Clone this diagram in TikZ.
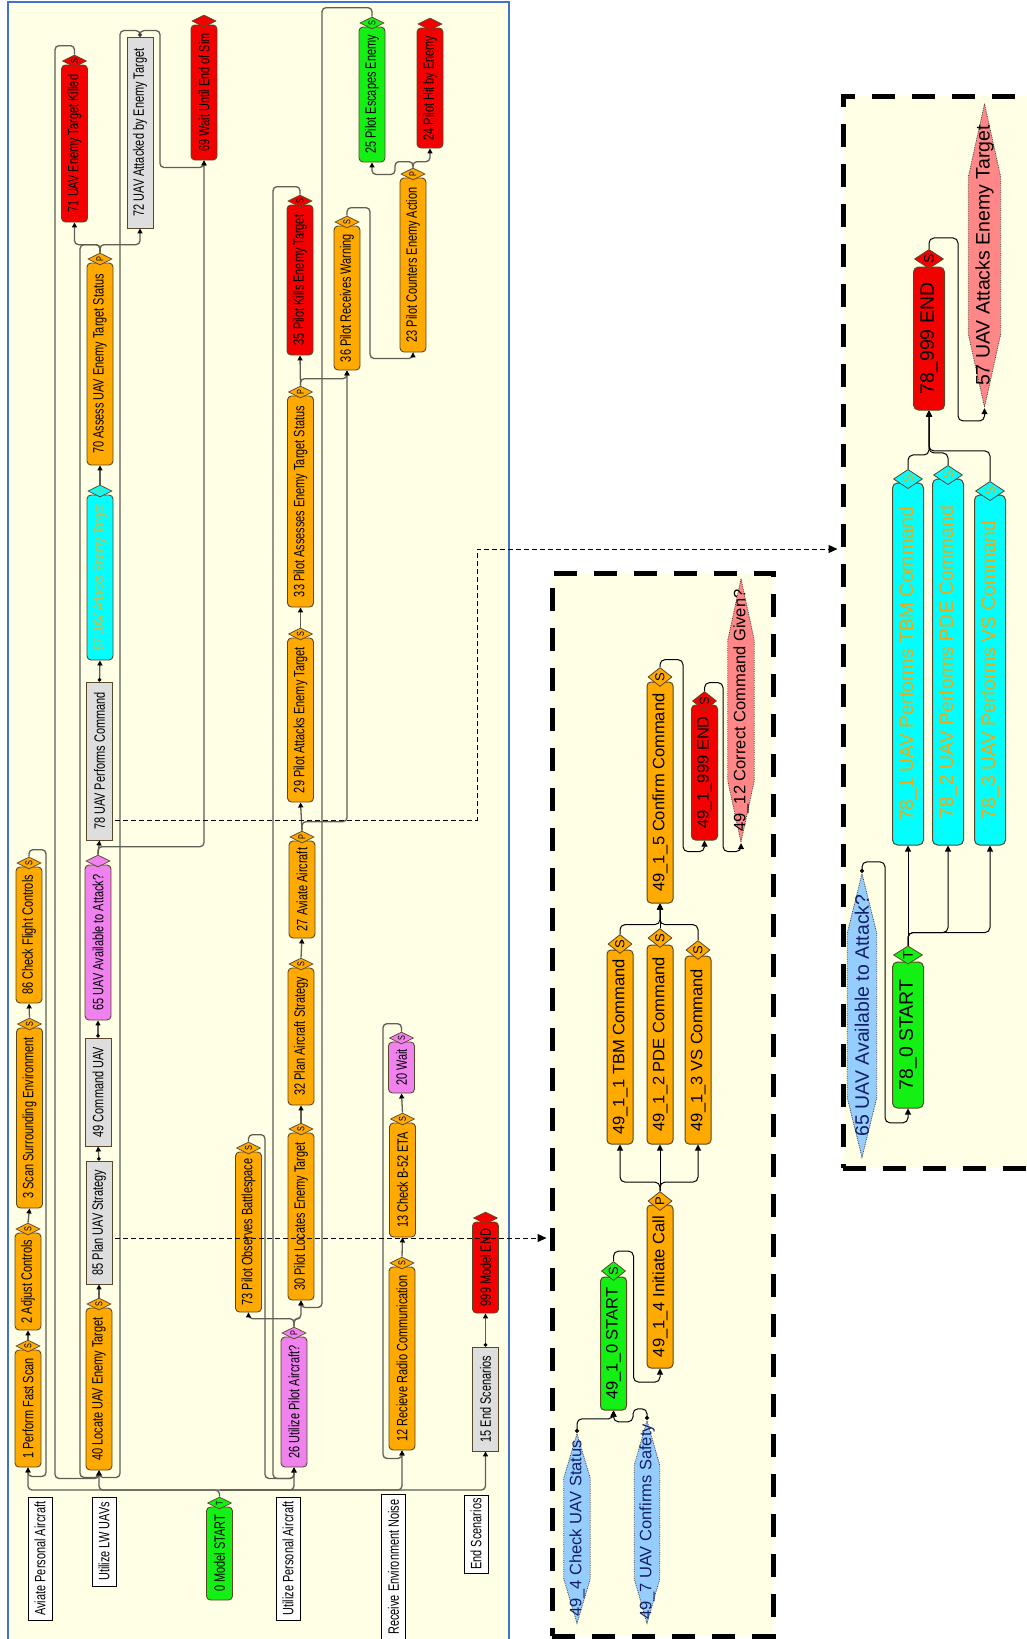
\documentclass[tikz,border=0pt]{standalone}
\usepackage{fontspec}
\setmainfont{Liberation Sans}
\newfontfamily\narrowsf[FakeStretch=0.73]{Liberation Sans}
\usetikzlibrary{shapes.geometric,arrows.meta,positioning,calc}
\definecolor{bgyellow}{RGB}{255,255,229}
\definecolor{frameblue}{RGB}{68,114,196}
\definecolor{taskorange}{RGB}{255,170,0}
\definecolor{taskred}{RGB}{245,0,0}
\definecolor{taskgreen}{RGB}{20,240,20}
\definecolor{taskcyan}{RGB}{0,255,255}
\definecolor{taskpink}{RGB}{240,130,240}
\definecolor{taskgrey}{RGB}{222,222,222}
\definecolor{boxline}{RGB}{90,70,40}
\definecolor{wireline}{RGB}{95,95,85}
\definecolor{condblue}{RGB}{150,205,255}
\definecolor{condsalmon}{RGB}{255,135,135}
\definecolor{textkhaki}{RGB}{200,190,70}
\definecolor{textamber}{RGB}{235,170,20}
\definecolor{textnavy}{RGB}{20,30,100}
\newcommand{\vt}[1]{\rotatebox{90}{#1}}

\begin{document}
\begin{tikzpicture}[x=1pt, y=-1pt,
    ltask/.style={draw=boxline, line width=0.9pt, rounded corners=4pt, inner sep=0pt,
        minimum width=26, font=\narrowsf\fontsize{15}{15}\selectfont},
    lcmd/.style={draw=boxline, line width=0.9pt, fill=taskgrey, inner sep=0pt,
        minimum width=26, font=\narrowsf\fontsize{15}{15}\selectfont},
    lgate/.style={diamond, draw=boxline, line width=0.7pt, inner sep=0pt,
        minimum width=24, minimum height=12, font=\narrowsf\fontsize{10}{10}\selectfont},
    swim/.style={draw=black, line width=0.9pt, fill=white, inner sep=0pt,
        minimum width=24, font=\narrowsf\fontsize{15}{15}\selectfont},
    wire/.style={wireline, line width=1.3pt, rounded corners=4pt,
        -{Triangle[length=5pt, width=5pt, color=black]}},
    cwire/.style={wire, {Circle[length=3.5pt, color=black]}-{Triangle[length=5pt, width=5pt, color=black]}},
    mtask/.style={draw=boxline, line width=1pt, rounded corners=4pt, inner sep=0pt,
        minimum width=26, font=\fontsize{16.5}{17}\selectfont},
    mgate/.style={diamond, draw=boxline, line width=0.8pt, inner sep=0pt,
        minimum width=24, minimum height=19, font=\fontsize{13}{13}\selectfont},
    rtask/.style={draw=boxline, line width=1pt, rounded corners=5pt, inner sep=0pt,
        minimum width=31, font=\fontsize{19.5}{20}\selectfont},
    rgate/.style={diamond, draw=boxline, line width=0.8pt, inner sep=0pt,
        minimum width=29, minimum height=18, font=\fontsize{14}{14}\selectfont},
    mwire/.style={black, line width=1pt, rounded corners=5pt, -{Triangle[length=6pt, width=6pt]}},
    mdwire/.style={mwire, {Circle[length=4pt]}-{Triangle[length=6pt, width=6pt]}},
    cond/.style 2 args={rectangle, inner sep=0pt, path picture={
        \path[fill=#1, draw=black!75, densely dotted, line width=0.8pt]
            ($(path picture bounding box.north)+(0,0.8)$)
            -- ($(path picture bounding box.north east)+(-0.8,#2)$)
            -- ($(path picture bounding box.south east)+(-0.8,-#2)$)
            -- ($(path picture bounding box.south)+(0,-0.8)$)
            -- ($(path picture bounding box.south west)+(0.8,-#2)$)
            -- ($(path picture bounding box.north west)+(0.8,#2)$) -- cycle;}},
    bigframe/.style={draw=black, line width=5pt, dash pattern=on 23pt off 17pt,
        fill=bgyellow, inner sep=0pt},
    dlink/.style={black, line width=1pt, dash pattern=on 5pt off 3pt,
        -{Triangle[length=9pt, width=8pt]}, shorten >=3pt}
]
\fill[white] (0,0) rectangle (1027,1639);
\useasboundingbox (0,0) rectangle (1027,1639);

% panels
\node[draw=frameblue, line width=1.5pt, fill=bgyellow, inner sep=0pt,
    minimum width=501, minimum height=1660] (lpanel) at (258.5,832) {};
\node[bigframe, minimum width=221, minimum height=1063] (midframe) at (662.5,1104.5) {};
\node[bigframe, minimum width=210, minimum height=1072] (rightframe) at (948,632) {};

% swimlane labels
\node[swim, minimum height=123] (lbA) at (40,1558.5) {\vt{Aviate Personal Aircraft}};
\node[swim, minimum height=89] (lbB) at (104,1541.5) {\vt{Utilize LW UAVs}};
\node[swim, minimum height=123] (lbC) at (288,1558.5) {\vt{Utilize Personal Aircraft}};
\node[swim, minimum height=146] (lbD) at (393.5,1567) {\vt{Receive Environment Noise}};
\node[swim, minimum height=78] (lbE) at (476,1534) {\vt{End Scenarios}};

% aviate column
\node[ltask, fill=taskgreen, minimum height=93] (n0) at (219.5,1553.5) {\vt{0 Model START}};
\node[lgate, fill=taskgreen] (n0g) at (219.5,1503) {\vt{T}};
\node[ltask, fill=taskorange, minimum height=117] (n1) at (28,1408.5) {\vt{1 Perform Fast Scan}};
\node[lgate, fill=taskorange] (n1g) at (28,1346) {\vt{S}};
\node[ltask, fill=taskorange, minimum height=97] (n2) at (28,1281.5) {\vt{2 Adjust Controls}};
\node[lgate, fill=taskorange] (n2g) at (28,1229) {\vt{S}};
\node[ltask, fill=taskorange, minimum height=180] (n3) at (29.5,1118) {\vt{3 Scan Surrounding Environment}};
\node[lgate, fill=taskorange] (n3g) at (29.5,1024) {\vt{S}};
\node[ltask, fill=taskorange, minimum height=136] (n86) at (29,935) {\vt{86 Check Flight Controls}};
\node[lgate, fill=taskorange] (n86g) at (29,863) {\vt{S}};

% UAV column
\node[ltask, fill=taskorange, minimum height=162] (n40) at (99,1389) {\vt{40 Locate UAV Enemy Target}};
\node[lgate, fill=taskorange] (n40g) at (99,1304) {\vt{S}};
\node[lcmd, minimum height=123] (n85) at (99,1222.5) {\vt{85 Plan UAV Strategy}};
\node[lcmd, minimum height=108] (n49) at (98,1092) {\vt{49 Command UAV}};
\node[ltask, fill=taskpink, minimum height=155] (n65) at (98,942.5) {\vt{65 UAV Available to Attack?}};
\node[lgate, fill=taskpink] (n65g) at (98,861) {};
\node[lcmd, minimum height=158] (n78) at (99.5,761) {\vt{78 UAV Performs Command}};
\node[ltask, fill=taskcyan, text=textkhaki, minimum height=165] (n57) at (100,577.5) {\vt{57 UAV Attacks Enemy Target}};
\node[lgate, fill=taskcyan, text=textkhaki] (n57g) at (100,491) {\vt{S}};
\node[ltask, fill=taskorange, minimum height=202] (n70) at (100,364) {\vt{70 Assess UAV Enemy Target Status}};
\node[lgate, fill=taskorange] (n70g) at (100,259) {\vt{P}};
\node[ltask, fill=taskred, minimum height=157] (n71) at (74.5,143.5) {\vt{71 UAV Enemy Target Killed}};
\node[lgate, fill=taskred] (n71g) at (74.5,61) {\vt{S}};
\node[lcmd, minimum height=191] (n72) at (140,132.5) {\vt{72 UAV Attacked by Enemy Target}};
\node[ltask, fill=taskred, minimum height=135] (n69) at (204,92.5) {\vt{69 Wait Until End of Sim}};
\node[lgate, fill=taskred] (n69g) at (204,21) {};

% pilot column
\node[ltask, fill=taskpink, minimum height=130] (n26) at (294,1402) {\vt{26 Utilize Pilot Aircraft?}};
\node[lgate, fill=taskpink] (n26g) at (294,1333) {\vt{P}};
\node[ltask, fill=taskorange, minimum height=160] (n73) at (248.5,1232) {\vt{73 Pilot Observes Battlespace}};
\node[lgate, fill=taskorange] (n73g) at (248.5,1148) {\vt{S}};
\node[ltask, fill=taskorange, minimum height=167] (n30) at (301,1216.5) {\vt{30 Pilot Locates Enemy Target}};
\node[lgate, fill=taskorange] (n30g) at (301,1129) {\vt{S}};
\node[ltask, fill=taskorange, minimum height=137] (n32) at (301,1036.5) {\vt{32 Plan Aircraft Strategy}};
\node[lgate, fill=taskorange] (n32g) at (301,964) {\vt{S}};
\node[ltask, fill=taskorange, minimum height=97] (n27) at (302,889.5) {\vt{27 Aviate Aircraft}};
\node[lgate, fill=taskorange] (n27g) at (302,837) {\vt{P}};
\node[ltask, fill=taskorange, minimum height=164] (n29) at (300.5,720) {\vt{29 Pilot Attacks Enemy Target}};
\node[lgate, fill=taskorange] (n29g) at (300.5,634) {\vt{S}};
\node[ltask, fill=taskorange, minimum height=211] (n33) at (300.5,501.5) {\vt{33 Pilot Assesses Enemy Target Status}};
\node[lgate, fill=taskorange] (n33g) at (300.5,392) {\vt{P}};
\node[ltask, fill=taskred, minimum height=150] (n35) at (300,280) {\vt{35 Pilot Kills Enemy Target}};
\node[lgate, fill=taskred] (n35g) at (300,201) {\vt{S}};
\node[ltask, fill=taskorange, minimum height=144] (n36) at (347,298) {\vt{36 Pilot Receives Warning}};
\node[lgate, fill=taskorange] (n36g) at (347,222) {\vt{S}};
\node[ltask, fill=taskorange, minimum height=174] (n23) at (413,265) {\vt{23 Pilot Counters Enemy Action}};
\node[lgate, fill=taskorange] (n23g) at (413,174) {\vt{P}};
\node[ltask, fill=taskgreen, minimum height=135] (n25) at (372,94.5) {\vt{25 Pilot Escapes Enemy}};
\node[lgate, fill=taskgreen] (n25g) at (372,23) {\vt{S}};
\node[ltask, fill=taskred, minimum height=120] (n24) at (430,88) {\vt{24 Pilot Hit by Enemy}};
\node[lgate, fill=taskred] (n24g) at (430,24) {};

% noise and end columns
\node[ltask, fill=taskorange, minimum height=183] (n12) at (402,1358.5) {\vt{12 Recieve Radio Communication}};
\node[lgate, fill=taskorange] (n12g) at (402,1263) {\vt{S}};
\node[ltask, fill=taskorange, minimum height=114] (n13) at (402.5,1180) {\vt{13 Check B-52 ETA}};
\node[lgate, fill=taskorange] (n13g) at (402.5,1119) {\vt{S}};
\node[ltask, fill=taskpink, minimum height=51] (n20) at (401.5,1067.5) {\vt{20 Wait}};
\node[lgate, fill=taskpink] (n20g) at (401.5,1038) {\vt{S}};
\node[lcmd, minimum height=104] (n15) at (485.5,1399) {\vt{15 End Scenarios}};
\node[ltask, fill=taskred, minimum height=91] (n999) at (485.5,1267.5) {\vt{999 Model END}};
\node[lgate, fill=taskred] (n999g) at (485.5,1218) {};

% left wires
\coordinate (bus) at (219.5,1490);
\draw[wire] (n0g.north) -- (bus) -| (n1.south);
\draw[wire] (bus) -| (n40.south);
\draw[wire] (bus) -| (n26.south);
\draw[wire] (bus) -| (n12.south);
\draw[wire] (bus) -| (n15.south);
\draw[wire] (n1g.north) -- (n2.south);
\draw[wire] (n2g.north) -- (n3.south);
\draw[wire] (n3g.north) -- (n86.south);
\draw[wire] (n86g.north) -- ++(0,-7) -| ($(n1.south)+(18,9)$) -| (n1.south);
\draw[wire] (n40g.north) -- (n85.south);
\draw[cwire] (n85.north) -- (n49.south);
\draw[cwire] (n49.north) -- (n65.south);
\draw[wire] (n65g.north) -- (n78.south);
\draw[wire] (n65g.north) -- ++(0,-8) -| (n69.south);
\draw[cwire] (n78.north) -- (n57.south);
\draw[wire] (n57g.north) -- (n70.south);
\draw[wire] (n70g.north) -- ++(0,-8) -| (n71.south);
\draw[wire] (n70g.north) -- ++(0,-8) -| (n72.south);
\draw[wire] (n70g.north) -- ++(0,-8) -| ($(n40.south)+(-19,7)$) -| (n40.south);
\draw[wire] (n71g.north) -- ++(0,-9) -| ($(n40.south)+(-44,8)$) -| (n40.south);
\draw[cwire] (n72.north) -- ++(0,-6) -| ($(n40.south)+(21,7)$) -| (n40.south);
\draw[wire] (n72.north) -- ++(0,-6) -| ($(n69.south)+(-44,7)$) -| (n69.south);
\draw[wire] (n26g.north) -- ++(0,-8) -| (n73.south);
\draw[wire] (n26g.north) -- ++(0,-8) -| (n30.south);
\draw[wire] (n73g.north) -- ++(0,-7) -| ($(n26.south)+(-29,11)$) -| (n26.south);
\draw[wire] (n35g.north) -- ++(0,-8) -| ($(n26.south)+(-21,11)$) -| (n26.south);
\draw[wire] (n30g.north) -- (n32.south);
\draw[wire] (n32g.north) -- (n27.south);
\draw[wire] (n27g.north) -- (n29.south);
\draw[wire] (n27g.north) -- ++(0,-9) -| (n36.south);
\draw[wire] (n29g.north) -- (n33.south);
\draw[wire] (n33g.north) -- (n35.south);
\draw[wire] (n33g.north) -- ++(0,-7) -| (n36.south);
\draw[wire] (n36g.north) -- ++(0,-8) -| ($(n23.south)+(-43,6)$) -| (n23.south);
\draw[wire] (n23g.north) -- ++(0,-6) -| ($(n25.south)+(23,12)$) -| (n25.south);
\draw[wire] (n23g.north) -- ++(0,-6) -| (n24.south);
\draw[wire] (n25g.north) -- ++(0,-9) -| ($(n30.south)+(21,7)$) -| (n30.south);
\draw[wire] (n12g.north) -- (n13.south);
\draw[wire] (n13g.north) -- (n20.south);
\draw[wire] (n20g.north) -- ++(0,-8) -| ($(n12.south)+(-19,8)$) -| (n12.south);
\draw[cwire] (n15.north) -- (n999.south);

% 49 Command UAV sub-model
\node[mtask, fill=taskorange, minimum height=194] (m1) at (620,1047) {\vt{49\_1\_1 TBM Command}};
\node[mgate, fill=taskorange] (m1g) at (620,944) {\vt{S}};
\node[mtask, fill=taskorange, minimum height=199] (m2) at (660,1044.5) {\vt{49\_1\_2 PDE Command}};
\node[mgate, fill=taskorange] (m2g) at (660,938) {\vt{S}};
\node[mtask, fill=taskorange, minimum height=188] (m3) at (698,1050) {\vt{49\_1\_3 VS Command}};
\node[mgate, fill=taskorange] (m3g) at (698,950) {\vt{S}};
\node[mtask, fill=taskorange, minimum height=221] (m5) at (660,792.5) {\vt{49\_1\_5 Confirm Command}};
\node[mgate, fill=taskorange] (m5g) at (660,677) {\vt{S}};
\node[mtask, fill=taskred, minimum height=135] (mEnd) at (704.5,772.5) {\vt{49\_1\_999 END}};
\node[mgate, fill=taskred] (mEndg) at (704.5,701) {\vt{S}};
\node[cond={condsalmon}{62}, minimum width=28, minimum height=265,
    font=\fontsize{16.5}{17}\selectfont] (m12) at (741,710.5) {\vt{49\_12 Correct Command Given?}};
\node[mtask, fill=taskorange, minimum height=163] (m4) at (660,1286.5) {\vt{49\_1\_4 Initiate Call}};
\node[mgate, fill=taskorange] (m4g) at (660,1201) {\vt{P}};
\node[mtask, fill=taskgreen, minimum height=133] (m0) at (613.5,1343.5) {\vt{49\_1\_0 START}};
\node[mgate, fill=taskgreen] (m0g) at (613.5,1271) {\vt{S}};
\node[cond={condblue}{45}, minimum width=28, minimum height=191, text=textnavy,
    font=\fontsize{16.5}{17}\selectfont] (mChk) at (577,1528.5) {\vt{49\_4 Check UAV Status}};
\node[cond={condblue}{45}, minimum width=27, minimum height=204, text=textnavy,
    font=\fontsize{16.5}{17}\selectfont] (mSafe) at (647,1522) {\vt{49\_7 UAV Confirms Safety}};

\draw[mdwire] (mChk.north) -- ++(0,-14) -| (m0.south);
\draw[mdwire] (mSafe.north) -- ++(0,-11) -| ++(-14,13) -| (m0.south);
\draw[mwire] (m0g.north) -- ++(0,-10) -| ++(20,131) -| (m4.south);
\draw[mwire] (m4g.north) -- ++(0,-9) -| (m1.south);
\draw[mwire] (m4g.north) -- (m2.south);
\draw[mwire] (m4g.north) -- ++(0,-9) -| (m3.south);
\draw[mwire] (m1g.north) -- ++(0,-9.5) -| (m5.south);
\draw[mwire] (m2g.north) -- (m5.south);
\draw[mwire] (m3g.north) -- ++(0,-15.5) -| (m5.south);
\draw[mwire] (m5g.north) -- ++(0,-7.5) -| ++(23,192) -| (mEnd.south);
\draw[mwire] (mEndg.north) -- ++(0,-8.5) -| ++(18.5,169) -| (m12.south);

% 78 UAV Performs Command sub-model
\node[rtask, fill=taskcyan, text=textamber, minimum height=362] (r1) at (908,664) {\vt{78\_1 UAV Performs TBM Command}};
\node[rgate, fill=taskcyan, text=textamber] (r1g) at (908,479) {\vt{S}};
\node[rtask, fill=taskcyan, text=textamber, minimum height=366] (r2) at (948,662) {\vt{78\_2 UAV Performs PDE Command}};
\node[rgate, fill=taskcyan, text=textamber] (r2g) at (948,475) {\vt{S}};
\node[rtask, fill=taskcyan, text=textamber, minimum height=350] (r3) at (990,670) {\vt{78\_3 UAV Performs VS Command}};
\node[rgate, fill=taskcyan, text=textamber] (r3g) at (990,491) {\vt{S}};
\node[rtask, fill=taskred, minimum height=143] (rEnd) at (929,338.5) {\vt{78\_999 END}};
\node[rgate, fill=taskred] (rEndg) at (929,259) {\vt{S}};
\node[cond={condsalmon}{74}, minimum width=34, minimum height=305,
    font=\fontsize{19.5}{20}\selectfont] (r57) at (984.5,255.5) {\vt{57 UAV Attacks Enemy Target}};
\node[rtask, fill=taskgreen, minimum height=146] (r0) at (908,1035) {\vt{78\_0 START}};
\node[rgate, fill=taskgreen] (r0g) at (908,955) {\vt{T}};
\node[cond={condblue}{60}, minimum width=31, minimum height=285, text=textnavy,
    font=\fontsize{19.5}{20}\selectfont] (r65) at (862,1015.5) {\vt{65 UAV Available to Attack?}};

\draw[mdwire] (r65.north) -- ++(0,-11) -| ++(23,261) -| (r0.south);
\draw[mwire] (r0g.north) -- (r1.south);
\draw[mwire] (r0g.north) -- ++(0,-13) -| (r2.south);
\draw[mwire] (r0g.north) -- ++(0,-13) -| (r3.south);
\draw[mwire] (r1g.north) -- ++(0,-14) -| (rEnd.south);
\draw[mwire] (r2g.north) -- ++(0,-12) -| (rEnd.south);
\draw[mwire] (r3g.north) -- ++(0,-30) -| (rEnd.south);
\draw[mwire] (rEndg.north) -- ++(0,-11) -| ++(29,183) -| (r57.south);

% links to the sub-models
\coordinate (lnkA) at (115,1238);
\draw[dlink] (lnkA) -- (lnkA -| midframe.west);
\coordinate (lnkB) at (115,820);
\coordinate (lnkC) at (477,549);
\draw[dlink] (lnkB) -| (lnkC) -- (lnkC -| rightframe.west);
\end{tikzpicture}
\end{document}
